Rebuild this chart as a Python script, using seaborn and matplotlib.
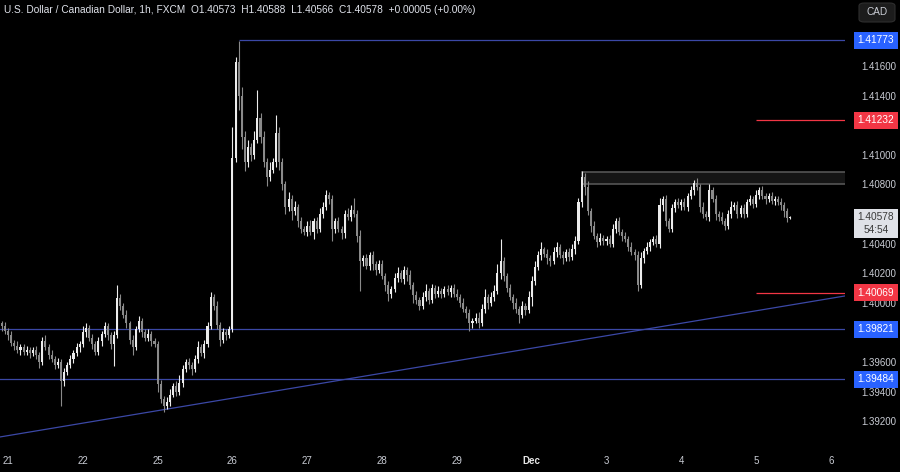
import numpy as np
import pandas as pd
import matplotlib
matplotlib.use('Agg')
import matplotlib.pyplot as plt
from matplotlib.patches import Rectangle, FancyBboxPatch
from matplotlib.transforms import blended_transform_factory
import seaborn as sns

# %%
# hourly closes, in pips above BASE, plus wick lengths
BASE = 1.39
first_open = 84

pre_close = [86, 84, 81]
pre_up = [3, 2, 3]
pre_dn = [2, 3, 2]

nov21_close = [78, 73, 71, 68, 70, 67, 68, 66, 68, 65, 60, 74, 70, 65, 62, 58, 60, 47, 53, 58, 62, 66, 70, 72]
nov21_up = [2, 3, 2, 3, 2, 2, 3, 2, 2, 3, 2, 3, 4, 2, 3, 2, 3, 2, 3, 2, 3, 2, 3, 2]
nov21_dn = [3, 2, 3, 2, 3, 2, 2, 3, 2, 3, 4, 2, 2, 3, 2, 3, 2, 17, 3, 2, 2, 3, 2, 3]

nov22_close = [80, 83, 76, 72, 67, 74, 79, 84, 78, 72, 78, 103, 98, 92, 86, 75, 70, 82, 88, 80, 76, 79, 74, 72]
nov22_up = [4, 3, 2, 3, 2, 3, 2, 3, 2, 2, 3, 9, 3, 2, 3, 2, 3, 2, 3, 2, 2, 3, 2, 2]
nov22_dn = [2, 3, 2, 3, 2, 2, 3, 2, 3, 3, 15, 2, 3, 2, 3, 3, 5, 2, 2, 3, 2, 2, 3, 2]

nov25_close = [45, 35, 30, 33, 38, 44, 40, 46, 55, 60, 58, 55, 62, 70, 66, 72, 84, 104, 98, 85, 75, 80, 78, 82]
nov25_up = [2, 3, 2, 3, 4, 2, 3, 5, 3, 2, 3, 2, 3, 4, 2, 3, 3, 3, 2, 3, 2, 3, 2, 2]
nov25_dn = [5, 3, 4, 2, 3, 2, 3, 2, 3, 2, 3, 4, 2, 3, 2, 3, 2, 2, 3, 3, 4, 2, 3, 2]

nov26_close = [198, 263, 240, 212, 195, 205, 200, 210, 225, 212, 195, 185, 190, 195, 215, 195, 180, 165, 170, 162, 165, 155, 150, 148]
nov26_up = [21, 3, 14, 6, 4, 5, 3, 6, 19, 3, 4, 3, 5, 3, 12, 4, 3, 2, 5, 3, 4, 2, 3, 2]
nov26_dn = [2, 3, 10, 8, 6, 3, 4, 3, 2, 4, 3, 6, 3, 2, 3, 5, 4, 5, 3, 6, 3, 4, 3, 2]

nov27_close = [152, 148, 155, 150, 160, 165, 173, 170, 150, 155, 150, 147, 160, 158, 163, 160, 145, 128, 130, 125, 132, 126, 122, 126]
nov27_up = [3, 4, 2, 3, 4, 3, 3, 2, 3, 2, 3, 2, 3, 4, 3, 8, 3, 4, 2, 3, 2, 3, 2, 3]
nov27_dn = [3, 2, 5, 3, 2, 3, 2, 3, 8, 3, 2, 4, 3, 2, 3, 2, 4, 20, 3, 2, 3, 4, 3, 2]

nov28_close = [118, 112, 106, 109, 117, 120, 116, 122, 119, 112, 105, 102, 98, 104, 108, 102, 110, 106, 108, 106, 109, 107, 110, 106]
nov28_up = [3, 2, 3, 2, 3, 4, 2, 3, 2, 3, 2, 3, 2, 3, 5, 2, 3, 2, 3, 2, 2, 3, 2, 3]
nov28_dn = [2, 4, 5, 3, 2, 3, 2, 3, 4, 3, 5, 3, 3, 2, 3, 3, 2, 3, 2, 3, 2, 2, 3, 2]

nov29_close = [104, 100, 96, 93, 86, 88, 90, 86, 96, 104, 100, 104, 108, 120, 128, 118, 110, 104, 100, 96, 92, 98, 95, 104]
nov29_up = [3, 2, 3, 2, 3, 2, 3, 4, 3, 5, 2, 3, 4, 6, 15, 3, 2, 3, 2, 3, 2, 3, 2, 4]
nov29_dn = [2, 3, 2, 3, 5, 3, 2, 3, 2, 3, 4, 2, 3, 2, 4, 3, 3, 2, 4, 3, 6, 2, 3, 2]

dec2_close = [115, 124, 132, 136, 133, 130, 128, 134, 138, 132, 130, 134, 131, 136, 142, 168, 185, 178, 162, 152, 145, 141, 144, 142]
dec2_up = [3, 4, 3, 5, 2, 3, 2, 4, 3, 2, 3, 2, 3, 4, 3, 3, 4, 3, 4, 2, 3, 2, 3, 2]
dec2_dn = [6, 3, 2, 3, 2, 4, 3, 2, 3, 2, 4, 2, 3, 2, 3, 2, 3, 5, 3, 4, 2, 3, 2, 3]

dec3_close = [143, 140, 150, 155, 148, 145, 143, 138, 134, 132, 112, 130, 135, 138, 141, 143, 140, 166, 170, 155, 150, 164, 168, 166]
dec3_up = [2, 3, 3, 2, 3, 2, 3, 2, 3, 2, 3, 4, 2, 3, 2, 2, 3, 5, 2, 3, 2, 3, 2, 3]
dec3_dn = [3, 2, 2, 3, 2, 3, 2, 3, 2, 3, 4, 2, 3, 2, 3, 2, 2, 3, 4, 3, 2, 2, 3, 2]

dec4_close = [168, 165, 172, 176, 181, 178, 165, 160, 158, 176, 170, 160, 158, 155, 152, 160, 165, 166, 160, 164, 160, 168, 170, 167]
dec4_up = [2, 3, 2, 3, 2, 3, 2, 3, 2, 4, 2, 3, 2, 3, 2, 3, 4, 2, 3, 2, 3, 2, 3, 2]
dec4_dn = [3, 2, 3, 2, 3, 2, 4, 3, 2, 3, 2, 4, 3, 2, 3, 2, 3, 2, 3, 2, 3, 2, 2, 3]

dec5_close = [173, 176, 172, 170, 172, 169, 170, 168, 166, 162, 157.3, 157.8]
dec5_up = [3, 2, 3, 2, 2, 3, 2, 2, 3, 2, 2, 1.0]
dec5_dn = [2, 3, 2, 3, 2, 2, 3, 2, 3, 4, 3, 0.7]

day_starts = [0, 24, 48, 72, 96, 120, 144, 168, 192, 216, 240, 264]
day_labels = ['21', '22', '25', '26', '27', '28', '29', 'Dec', '3', '4', '5', '6']

# price scale; labels hidden behind the badges are left blank
price_ticks = [1.392, 1.394, 1.396, 1.398, 1.400, 1.402, 1.404, 1.406, 1.408,
               1.410, 1.412, 1.414, 1.416, 1.418]
hidden_ticks = [1.398, 1.406, 1.412, 1.418]

# horizontal levels: price, first bar, colour
level_price = [1.41773, 1.41232, 1.40069, 1.39821, 1.39484]
level_from = [74, 240, 240, -3, -3]
level_kind = ['blue', 'red', 'red', 'blue', 'blue']

zone_low, zone_high, zone_from = 1.40800, 1.40885, 184

trend_bar = [-2.6, 268.5]
trend_price = [1.39093, 1.40046]

last_price = 1.40578
title = ('U.S. Dollar / Canadian Dollar, 1h, FXCM  O1.40573  H1.40588  '
         'L1.40566  C1.40578  +0.00005 (+0.00%)')

# %%
close = (pre_close + nov21_close + nov22_close + nov25_close + nov26_close + nov27_close
         + nov28_close + nov29_close + dec2_close + dec3_close + dec4_close + dec5_close)
up = (pre_up + nov21_up + nov22_up + nov25_up + nov26_up + nov27_up
      + nov28_up + nov29_up + dec2_up + dec3_up + dec4_up + dec5_up)
dn = (pre_dn + nov21_dn + nov22_dn + nov25_dn + nov26_dn + nov27_dn
      + nov28_dn + nov29_dn + dec2_dn + dec3_dn + dec4_dn + dec5_dn)

df = pd.DataFrame({'bar': np.arange(-3, -3 + len(close)), 'close': close, 'up': up, 'dn': dn})
df['open'] = df['close'].shift(1).fillna(first_open)
df['high'] = df[['open', 'close']].max(axis=1) + df['up']
df['low'] = df[['open', 'close']].min(axis=1) - df['dn']
for c in ['open', 'close', 'high', 'low']:
    df[c] = BASE + df[c] / 10000

# %%
BLUE = '#3b48a6'
RED = '#f23645'
BADGE_BLUE = '#2962ff'
TXT = '#c9ccd4'

sns.set_theme(style='dark', rc={'axes.facecolor': 'black', 'figure.facecolor': 'black'})
plt.rcParams['font.family'] = ['Liberation Sans', 'DejaVu Sans']

fig = plt.figure(figsize=(9, 4.72), dpi=100)
W, H = 900, 472
ax = fig.add_axes([0, 22 / H, 845 / W, 450 / H])
ax.set_facecolor('black')
for s in ax.spines.values():
    s.set_visible(False)
ax.grid(False)

ylo, yhi = 1.39005, 1.42046
xlo, xhi = -2.57, 268.5
ax.set_xlim(xlo, xhi)
ax.set_ylim(ylo, yhi)
ppx = (yhi - ylo) / 450  # price per pixel

# candles
bull = df['close'] >= df['open']
col = np.where(bull, '#ececec', '#8a8a8a')
ax.vlines(df['bar'], df['low'], df['high'], colors=col, linewidth=0.8, zorder=3)
body_lo = df[['open', 'close']].min(axis=1)
body_h = (df['close'] - df['open']).abs().clip(lower=ppx)
ax.bar(df['bar'], body_h, bottom=body_lo, width=0.66, color=col, linewidth=0, zorder=3)

# levels
for p, start, kind in zip(level_price, level_from, level_kind):
    ax.hlines(p, start, xhi + 5, colors=BLUE if kind == 'blue' else RED, linewidth=0.9, zorder=2)

ax.add_patch(Rectangle((zone_from, zone_low), xhi + 5 - zone_from, zone_high - zone_low,
                       facecolor='#151515', edgecolor='#555555', linewidth=1.2, zorder=2))

sns.lineplot(x=trend_bar, y=trend_price, ax=ax, color=BLUE, linewidth=0.9, zorder=2)

# axes ticks
ax.yaxis.tick_right()
ax.set_yticks(price_ticks)
ax.set_yticklabels(['' if any(abs(v - h) < 1e-9 for h in hidden_ticks) else f'{v:.5f}'
                    for v in price_ticks])
ax.tick_params(axis='y', length=0, pad=12, labelsize=7, labelcolor=TXT)
ax.set_xticks(day_starts)
ax.set_xticklabels(day_labels)
ax.tick_params(axis='x', length=0, pad=4, labelsize=7, labelcolor=TXT)
for t in ax.get_xticklabels():
    if t.get_text() == 'Dec':
        t.set_fontweight('bold')
        t.set_color('#e6e6e6')

# price badges on the right scale
tr = blended_transform_factory(fig.transFigure, ax.transData)
def badge(price, bg, top=8.5, bottom=8.5):
    ax.add_patch(Rectangle((854 / W, price - bottom * ppx), 44 / W, (top + bottom) * ppx,
                           transform=tr, facecolor=bg, edgecolor='none', clip_on=False, zorder=5))

for p, kind in zip(level_price, level_kind):
    badge(p, BADGE_BLUE if kind == 'blue' else RED)
    ax.text(876 / W, p, f'{p:.5f}', transform=tr, ha='center', va='center',
            fontsize=7.3, color='white', zorder=6, clip_on=False)

badge(last_price, '#dfe1e7', top=8, bottom=21)
ax.text(876 / W, last_price, f'{last_price:.5f}', transform=tr, ha='center', va='center',
        fontsize=7.3, color='#3a3a3a', zorder=6, clip_on=False)
ax.text(876 / W, last_price - 13 * ppx, '54:54', transform=tr, ha='center', va='center',
        fontsize=7.3, color='#3a3a3a', zorder=6, clip_on=False)

# header and currency button
fig.text(4 / W, 1 - 10 / H, title, ha='left', va='center', fontsize=7.3, color='#e0e3eb')
fig.patches.append(FancyBboxPatch((859 / W, 1 - 22 / H), 36 / W, 19 / H,
                                  boxstyle='round,pad=0,rounding_size=0.006',
                                  transform=fig.transFigure, facecolor='#1c1c1c',
                                  edgecolor='#2e2e2e', linewidth=0.8, figure=fig))
fig.text(877 / W, 1 - 12 / H, 'CAD', ha='center', va='center', fontsize=7.2, color=TXT)

fig.savefig('out.png', dpi=100, facecolor='black')
